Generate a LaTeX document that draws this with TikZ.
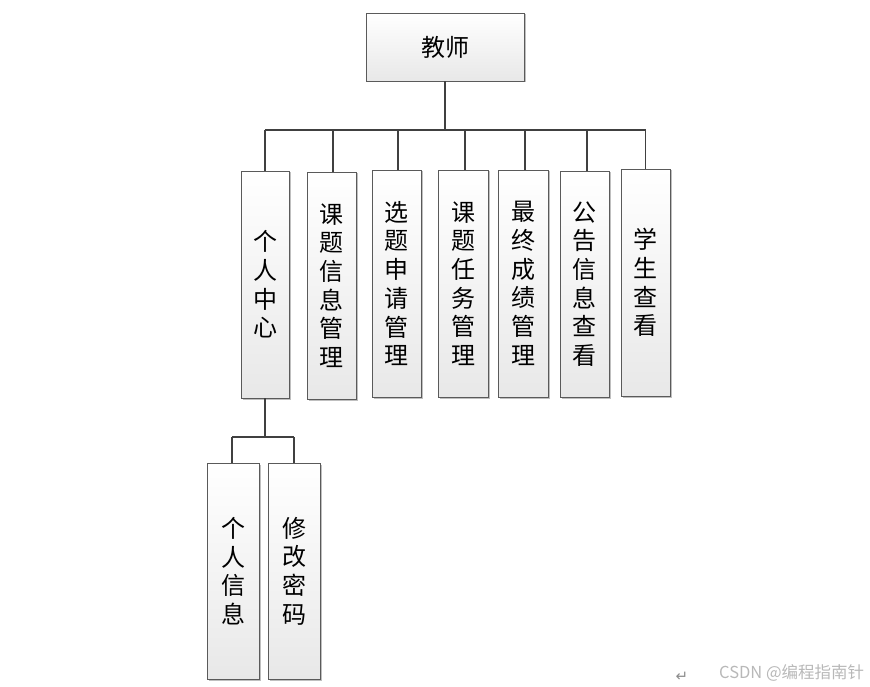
\documentclass[tikz,border=0pt]{standalone}
\usepackage{fontspec}
\newfontfamily\cjk{Noto Sans CJK SC}
\newfontfamily\dvs{DejaVu Sans}
\usetikzlibrary{shadows}
\definecolor{edgec}{HTML}{5A5A5A}
\definecolor{linec}{HTML}{404040}
\definecolor{wmark}{HTML}{B8B8B8}
\begin{document}
\begin{tikzpicture}[x=1pt,y=-1pt,
  box/.style={draw=edgec, line width=0.9pt, top color=white, bottom color=black!9,
    inner sep=0pt, align=center, font=\cjk\fontsize{24}{28.7}\selectfont,
    drop shadow={shadow xshift=1.5pt, shadow yshift=-1.5pt, opacity=0.25, fill=black}},
  conn/.style={draw=linec, line width=1.8pt}]
\useasboundingbox (0,0) rectangle (870,687);
\node[box, minimum width=158, minimum height=68] (top) at (445,47) {教师};
\node[box, minimum width=48, minimum height=227] (n1) at (265,284.5) {个\\人\\中\\心};
\node[box, minimum width=49, minimum height=227] (n2) at (331.5,285.5) {课\\题\\信\\息\\管\\理};
\node[box, minimum width=49, minimum height=227] (n3) at (396.5,283.5) {选\\题\\申\\请\\管\\理};
\node[box, minimum width=50, minimum height=227] (n4) at (463,283.5) {课\\题\\任\\务\\管\\理};
\node[box, minimum width=50, minimum height=227] (n5) at (523,283.5) {最\\终\\成\\绩\\管\\理};
\node[box, minimum width=49, minimum height=226] (n6) at (584.5,284) {公\\告\\信\\息\\查\\看};
\node[box, minimum width=49, minimum height=227] (n7) at (645.5,282.5) {学\\生\\查\\看};
\node[box, minimum width=52, minimum height=216] (m1) at (233,571) {个\\人\\信\\息};
\node[box, minimum width=52, minimum height=216] (m2) at (294,571) {修\\改\\密\\码};
\coordinate (bus) at (445,130);
\coordinate (bus2) at (265,437);
\draw[conn] (top.south) -- (top.south |- bus);
\draw[conn] (n1.north |- bus) -- (n7.north |- bus);
\draw[conn] (n1.north |- bus) -- (n1.north);
\draw[conn] ([xshift=1.5pt]n2.north |- bus) -- ([xshift=1.5pt]n2.north);
\draw[conn] ([xshift=1.5pt]n3.north |- bus) -- ([xshift=1.5pt]n3.north);
\draw[conn] ([xshift=2pt]n4.north |- bus) -- ([xshift=2pt]n4.north);
\draw[conn] ([xshift=2pt]n5.north |- bus) -- ([xshift=2pt]n5.north);
\draw[conn] ([xshift=2.5pt]n6.north |- bus) -- ([xshift=2.5pt]n6.north);
\draw[conn] (n7.north |- bus) -- (n7.north);
\draw[conn] (n1.south) -- (bus2);
\draw[conn] ([xshift=-1pt]m1.north |- bus2) -- (m2.north |- bus2);
\draw[conn] ([xshift=-1pt]m1.north |- bus2) -- ([xshift=-1pt]m1.north);
\draw[conn] (m2.north |- bus2) -- (m2.north);
\node[text=black!45, font=\dvs\fontsize{15}{17}\selectfont, inner sep=0pt] (ret) at (682,677) {↵};
\node[text=wmark, font=\cjk\fontsize{16.5}{18}\selectfont, inner sep=0pt, anchor=west] (wm) at (719,673) {CSDN @编程指南针};
\end{tikzpicture}
\end{document}
